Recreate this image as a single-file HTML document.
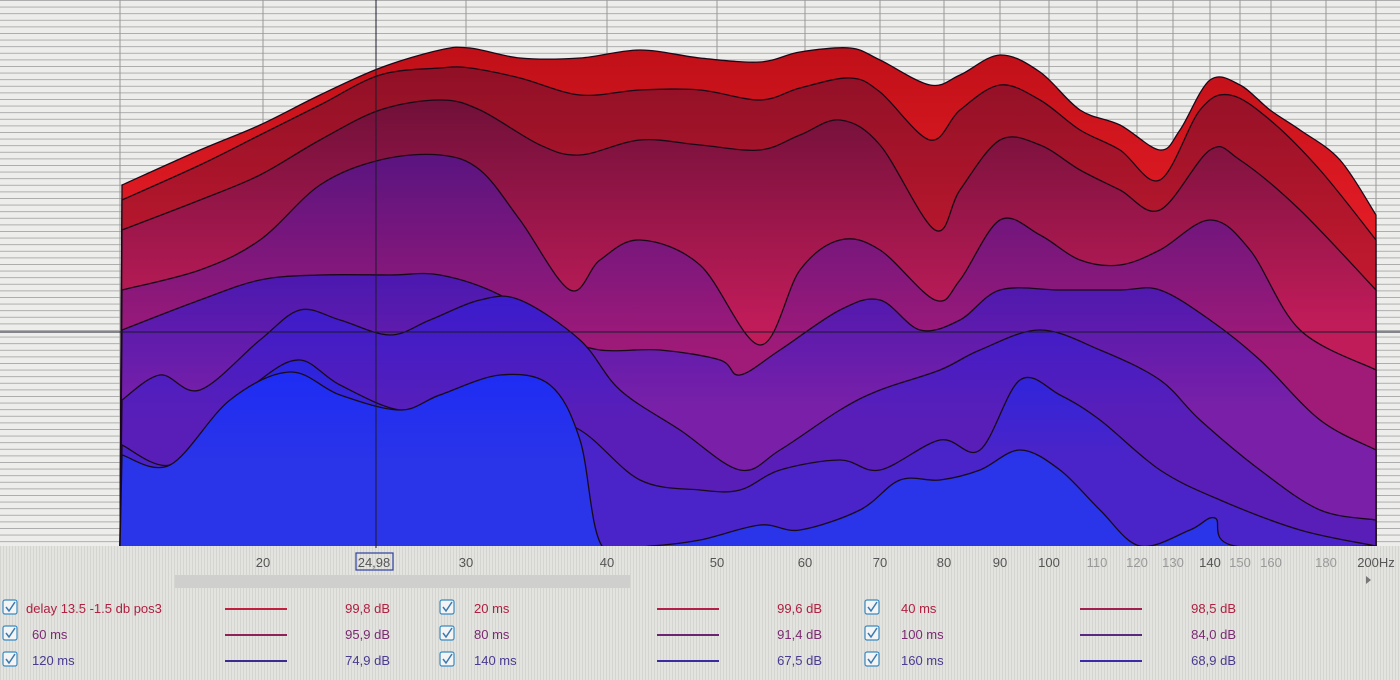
<!DOCTYPE html>
<html><head><meta charset="utf-8"><style>
html,body{margin:0;padding:0;width:1400px;height:680px;overflow:hidden;background:#e6e6e4;font-family:"Liberation Sans",sans-serif;}
svg{position:absolute;left:0;top:0}
</style></head><body>
<svg id="s" width="1400" height="680" xmlns="http://www.w3.org/2000/svg">
<defs>
<pattern id="hl" width="1400" height="6.6" patternUnits="userSpaceOnUse"><rect width="1400" height="6.6" fill="#ededec"/><line x1="0" y1="0.5" x2="1400" y2="0.5" stroke="#aaaaaa" stroke-width="1"/></pattern>
<pattern id="vl" width="3" height="10" patternUnits="userSpaceOnUse"><rect width="3" height="10" fill="#e3e3df"/><line x1="0.5" y1="0" x2="0.5" y2="10" stroke="#d4d4d0" stroke-width="1"/></pattern>
<clipPath id="pc"><rect x="118" y="0" width="1260" height="546"/></clipPath>
</defs>
<rect x="0" y="0" width="1400" height="546" fill="url(#hl)"/>
<rect x="0" y="546" width="1400" height="134" fill="url(#vl)"/>
<g id="vg" stroke="#999" stroke-width="1"></g>
<g id="layers" stroke="#1a0a18" stroke-width="1.3" clip-path="url(#pc)"></g>
<line x1="0" y1="332" x2="1400" y2="332" stroke="#1a1a2a" stroke-width="1"/>
<line x1="376" y1="0" x2="376" y2="548" stroke="#1a1a2a" stroke-width="1"/>
<rect x="175" y="575" width="455" height="13" fill="#cfcfcd"/>
<path d="M1366 576 l5 4 l-5 4z" fill="#777"/>
<g font-size="13" fill="#555" text-anchor="middle" id="xl"></g>
<rect x="356" y="553" width="37" height="17" fill="none" stroke="#3040a0" stroke-width="1.2"/>
<g id="leg" font-size="13"></g>
</svg>
<script>
function path(pts){
 let d="M"+pts[0][0]+","+pts[0][1];
 for(let i=0;i<pts.length-1;i++){
  const p0=pts[Math.max(i-1,0)],p1=pts[i],p2=pts[i+1],p3=pts[Math.min(i+2,pts.length-1)];
  const c1=[p1[0]+(p2[0]-p0[0])/6,p1[1]+(p2[1]-p0[1])/6];
  const c2=[p2[0]-(p3[0]-p1[0])/6,p2[1]-(p3[1]-p1[1])/6];
  d+=" C"+c1[0].toFixed(1)+","+c1[1].toFixed(1)+" "+c2[0].toFixed(1)+","+c2[1].toFixed(1)+" "+p2[0]+","+p2[1];
 }
 return d;
}
const C=[
[[122,185],[200,150],[260,125],[320,95],[380,68],[440,50],[470,48],[520,58],[580,58],[640,50],[700,58],[760,62],[800,52],[850,48],[880,60],[930,85],[960,75],[1000,55],[1040,72],[1080,110],[1120,125],[1160,150],[1180,130],[1210,80],[1240,85],[1270,110],[1300,130],[1340,160],[1376,215]],
[[122,200],[200,165],[260,135],[320,105],[380,75],[440,68],[470,68],[520,78],[580,95],[640,90],[700,90],[760,100],[800,88],[850,78],[880,92],[930,140],[960,110],[1000,85],[1040,100],[1080,130],[1120,150],[1160,180],[1200,110],[1230,95],[1270,120],[1320,170],[1376,240]],
[[122,230],[200,200],[260,175],[320,140],[380,110],[440,100],[480,110],[540,145],[580,155],[640,140],[700,145],[760,150],[800,135],[840,120],[880,145],[935,230],[960,190],[1000,140],[1040,145],[1080,170],[1120,190],[1160,210],[1210,150],[1240,160],[1300,210],[1376,290]],
[[122,290],[200,270],[260,240],[320,185],[380,160],[440,155],[480,170],[520,220],[570,290],[600,260],[640,240],[700,265],[760,345],[800,270],[840,240],[880,250],[935,300],[960,280],[1000,220],[1040,235],[1080,260],[1120,265],[1160,250],[1210,220],[1250,250],[1300,330],[1376,370]],
[[122,330],[200,300],[260,280],[320,275],[390,275],[440,275],[500,295],[560,335],[600,350],[660,350],[720,360],[740,375],[780,350],[840,310],[880,300],[920,330],[960,320],[1000,290],[1060,290],[1120,290],[1160,290],[1210,320],[1260,360],[1320,420],[1376,450]],
[[122,400],[160,375],[200,390],[260,340],[300,310],[340,320],[390,335],[430,320],[480,300],[520,300],[580,340],[620,390],[680,430],[740,470],[780,450],[840,410],[880,390],[940,370],[980,350],[1040,330],[1100,350],[1160,380],[1200,420],[1260,470],[1320,510],[1376,520]],
[[122,445],[170,465],[220,420],[260,380],[300,360],[340,385],[400,410],[440,395],[480,390],[520,410],[580,430],[640,480],[700,490],[740,490],[780,470],[840,460],[880,470],[940,440],[980,450],[1020,380],[1060,395],[1100,420],[1160,470],[1220,500],[1300,530],[1376,546]],
[[122,455],[170,465],[230,400],[290,372],[340,395],[400,410],[440,395],[500,375],[550,385],[580,440],[602,546],[650,546],[700,540],[760,525],[800,530],[860,510],[900,480],[940,480],[980,470],[1020,450],[1060,470],[1100,510],[1140,546],[1190,530],[1215,518],[1235,546],[1376,546]]
];
const cols=[["#c01018","#f0202a"],["#901026","#c81a30"],["#701038","#c01c5a"],["#5a1480","#a01a78"],["#4a18b0","#7a20a8"],["#3a1ccc","#5a1eb8"],["#2a24e0","#4a24c8"],["#1e2cf4","#2a34e8"]];
const ns="http://www.w3.org/2000/svg";
const defs=document.querySelector("defs");
const L=document.getElementById("layers");
C.forEach((c,i)=>{
 const g=document.createElementNS(ns,"linearGradient");g.id="g"+i;g.setAttribute("x1","0");g.setAttribute("y1","0");g.setAttribute("x2","0");g.setAttribute("y2","1");
 g.innerHTML='<stop offset="0" stop-color="'+cols[i][0]+'"/><stop offset="0.5" stop-color="'+cols[i][1]+'"/><stop offset="1" stop-color="'+cols[i][1]+'"/>';
 defs.appendChild(g);
 const p=document.createElementNS(ns,"path");
 p.setAttribute("d",path(c)+" L1376,548 L120,548 Z");
 p.setAttribute("fill","url(#g"+i+")");
 L.appendChild(p);
});
const vg=document.getElementById("vg");
[120,263,376,466,607,717,805,880,944,1000,1049,1097,1137,1173,1210,1240,1271,1326,1376].forEach(x=>{
 const l=document.createElementNS(ns,"line");l.setAttribute("x1",x);l.setAttribute("x2",x);l.setAttribute("y1",0);l.setAttribute("y2",546);vg.appendChild(l);
});
const xl=document.getElementById("xl");
[[263,"20"],[374,"24,98"],[466,"30"],[607,"40"],[717,"50"],[805,"60"],[880,"70"],[944,"80"],[1000,"90"],[1049,"100"],[1097,"110"],[1137,"120"],[1173,"130"],[1210,"140"],[1240,"150"],[1271,"160"],[1326,"180"],[1376,"200Hz"]].forEach(([x,t])=>{
 const e=document.createElementNS(ns,"text");e.setAttribute("x",x);e.setAttribute("y",567);e.textContent=t;
 if(t=="110"||t=="120"||t=="130"||t=="150"||t=="160"||t=="180")e.setAttribute("fill","#999");
 xl.appendChild(e);
});
const leg=document.getElementById("leg");
const rows=[608,634,660];
const tc=["#b02040","#7a2a70","#4a3a90"];
const lc=[["#c02040","#b02048","#a02050"],["#902058","#6a2470","#5a2880"],["#3a2c90","#3a2ca0","#3a2ca8"]];
const data=[[["delay 13.5 -1.5 db pos3","99,8 dB"],["20 ms","99,6 dB"],["40 ms","98,5 dB"]],[["60 ms","95,9 dB"],["80 ms","91,4 dB"],["100 ms","84,0 dB"]],[["120 ms","74,9 dB"],["140 ms","67,5 dB"],["160 ms","68,9 dB"]]];
const colx=[[3,26,225,390],[440,468,657,822],[865,895,1080,1236]];
data.forEach((r,ri)=>r.forEach((c,ci)=>{
 const y=rows[ri],[cx,tx,lx,vx]=colx[ci];
 let h='<rect x="'+cx+'" y="'+(y-8)+'" width="14" height="14" rx="2" fill="#f4f4f4" stroke="#3a8ac0" stroke-width="1.2"/>'+
 '<path d="M'+(cx+3)+','+(y-1)+' l3,4 l6,-9" fill="none" stroke="#3a7ab0" stroke-width="1.5"/>'+
 '<text x="'+(tx+(ri==0&&ci==0?0:6))+'" y="'+(y+5)+'" fill="'+tc[ri]+'">'+c[0]+'</text>'+
 '<line x1="'+lx+'" x2="'+(lx+62)+'" y1="'+(y+1)+'" y2="'+(y+1)+'" stroke="'+lc[ri][ci]+'" stroke-width="2"/>'+
 '<text x="'+vx+'" y="'+(y+5)+'" text-anchor="end" fill="'+tc[ri]+'">'+c[1]+'</text>';
 leg.insertAdjacentHTML("beforeend",h);
}));
</script>
</body></html>
